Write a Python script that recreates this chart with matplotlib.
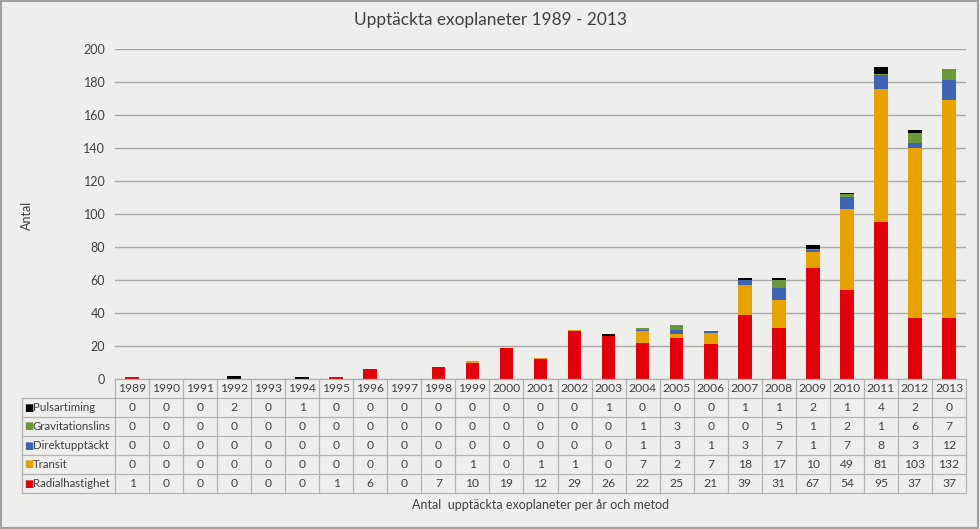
import matplotlib.pyplot as plt
import matplotlib.patches as mpatches
import numpy as np

plt.rcParams['font.family'] = ['Lato', 'DejaVu Sans']

# data
years = ['1989', '1990', '1991', '1992', '1993', '1994', '1995', '1996', '1997',
         '1998', '1999', '2000', '2001', '2002', '2003', '2004', '2005', '2006',
         '2007', '2008', '2009', '2010', '2011', '2012', '2013']
radial = [1, 0, 0, 0, 0, 0, 1, 6, 0, 7, 10, 19, 12, 29, 26, 22, 25, 21, 39, 31, 67, 54, 95, 37, 37]
transit = [0, 0, 0, 0, 0, 0, 0, 0, 0, 0, 1, 0, 1, 1, 0, 7, 2, 7, 18, 17, 10, 49, 81, 103, 132]
direkt = [0, 0, 0, 0, 0, 0, 0, 0, 0, 0, 0, 0, 0, 0, 0, 1, 3, 1, 3, 7, 1, 7, 8, 3, 12]
gravlins = [0, 0, 0, 0, 0, 0, 0, 0, 0, 0, 0, 0, 0, 0, 0, 1, 3, 0, 0, 5, 1, 2, 1, 6, 7]
pulsar = [0, 0, 0, 2, 0, 1, 0, 0, 0, 0, 0, 0, 0, 0, 1, 0, 0, 0, 1, 1, 2, 1, 4, 2, 0]

# bottom -> top
series = [('Radialhastighet', radial, '#E2000B'),
          ('Transit', transit, '#E8A200'),
          ('Direktupptäckt', direkt, '#3F64B4'),
          ('Gravitationslins', gravlins, '#6B983C'),
          ('Pulsartiming', pulsar, '#000000')]

W, H = 980, 529
fig = plt.figure(figsize=(W / 100, H / 100), dpi=100, facecolor='#EEEEEC')
ax = fig.add_axes([115 / W, 1 - 379 / H, (966 - 115) / W, (379 - 49) / H])
ax.set_facecolor('none')

x = np.arange(len(years))
bottom = np.zeros(len(years))
for name, vals, col in series:
    ax.bar(x, vals, 0.4, bottom=bottom, color=col, zorder=3)
    bottom += np.array(vals)

ax.set_ylim(0, 200)
ax.set_yticks(range(0, 201, 20))
ax.yaxis.grid(True, color='#A8A8A8', lw=1, zorder=0)
ax.tick_params(axis='y', length=0, pad=7, labelsize=9, labelcolor='#404040')
ax.set_xticks([])
for s in ax.spines.values():
    s.set_visible(False)

# data table under the bars
tr = ax.get_xaxis_transform()
rh = 19 / 330
def px2x(px):
    return (px - 115) / 34 - 0.5
xl = px2x(22)
x0, x1 = -0.5, len(years) - 0.5
lc = '#B4B4B4'
kw = dict(transform=tr, clip_on=False, color=lc, lw=0.9, zorder=4)
ax.plot([x0, x1], [0, 0], **kw)
for i in range(1, 7):
    ax.plot([xl, x1], [-i * rh, -i * rh], **kw)
for k in range(len(years) + 1):
    ax.plot([x0 + k, x0 + k], [0, -6 * rh], **kw)
ax.plot([xl, xl], [-rh, -6 * rh], **kw)
ax.set_xlim(x0, x1)

tc = '#404040'
for j, yr in enumerate(years):
    ax.text(j, -0.5 * rh, yr, transform=tr, ha='center', va='center', fontsize=8.7, color=tc)
for i, (name, vals, col) in enumerate(series[::-1]):
    yy = -(i + 1.5) * rh
    ax.text(px2x(24), yy, '■', transform=tr, ha='left', va='center', fontsize=7, color=col,
            family=['DejaVu Sans'])
    ax.text(px2x(33), yy, name, transform=tr, ha='left', va='center', fontsize=8.3, color=tc)
    for j, v in enumerate(vals):
        ax.text(j, yy, str(v), transform=tr, ha='center', va='center', fontsize=8.7, color=tc)

fig.text(0.5, 1 - 20 / H, 'Upptäckta exoplaneter 1989 - 2013', ha='center', va='center',
         fontsize=12.4, color='#404040')
fig.text(541 / W, 1 - 505 / H, 'Antal  upptäckta exoplaneter per år och metod', ha='center',
         va='center', fontsize=9, color='#404040')
fig.text(27 / W, 1 - 215 / H, 'Antal', rotation=90, ha='center', va='center', fontsize=9,
         color='#404040')

fig.patches.append(mpatches.Rectangle((0.001, 0.001), 0.997, 0.997, transform=fig.transFigure,
                                      fill=False, ec='#A0A0A0', lw=1.5))

fig.savefig('out.png', dpi=100, facecolor=fig.get_facecolor())
